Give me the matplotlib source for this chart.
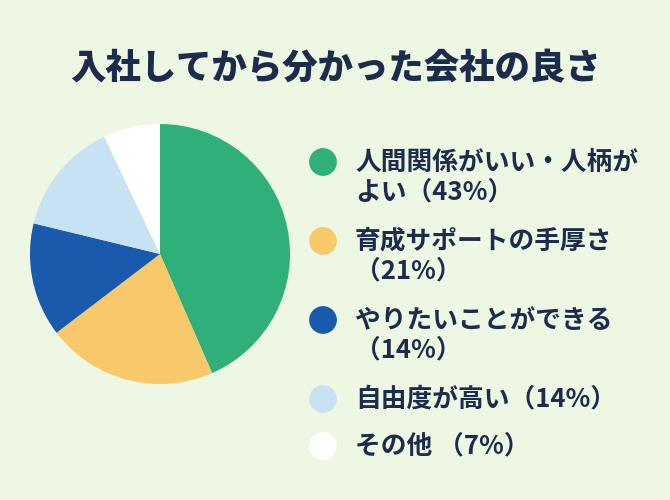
import matplotlib
matplotlib.use("Agg")
import matplotlib.pyplot as plt

plt.rcParams['font.family'] = ['Noto Sans CJK JP', 'DejaVu Sans']

title = "入社してから分かった会社の良さ"
categories = ["人間関係がいい・人柄が\nよい（43%）", "育成サポートの手厚さ\n（21%）",
              "やりたいことができる\n（14%）", "自由度が高い（14%）", "その他 （7%）"]
values = [43, 21, 14, 14, 7]
colors = ["#2fb07b", "#f8c96a", "#1a5aad", "#c7e2f3", "#ffffff"]

bg = "#eef7e3"
navy = "#1d2c4c"

W, H = 670, 500
fig = plt.figure(figsize=(W / 100, H / 100), dpi=100, facecolor=bg)

# pie axes: centre (160,254), radius 130 px
cx, cy, r = 160, 254, 130
ax = fig.add_axes([(cx - r) / W, (H - cy - r) / H, 2 * r / W, 2 * r / H])
ax.set_facecolor(bg)
ax.pie(values, colors=colors, startangle=90, counterclock=False, radius=1.0,
       wedgeprops=dict(linewidth=0))
ax.set_xlim(-1, 1)
ax.set_ylim(-1, 1)
ax.set_aspect('equal')
ax.axis('off')

fig.text(336 / W, 1 - 68 / H, title, ha='center', va='center', fontsize=25.5,
         fontweight='black', color=navy)

# legend overlay
lax = fig.add_axes([0, 0, 1, 1], facecolor='none')
lax.set_xlim(0, W)
lax.set_ylim(H, 0)
lax.axis('off')
marker_y = [162, 241, 320, 399, 446]
line_gap = 30
for lab, col, y in zip(categories, colors, marker_y):
    lax.scatter([323], [y], s=400, color=col, edgecolor='none', zorder=3)
    for i, line in enumerate(lab.split("\n")):
        lax.text(355, y + i * line_gap, line, ha='left', va='center',
                 fontsize=18.5, fontweight='bold', color=navy)

fig.savefig("out.png", dpi=100, facecolor=bg)
